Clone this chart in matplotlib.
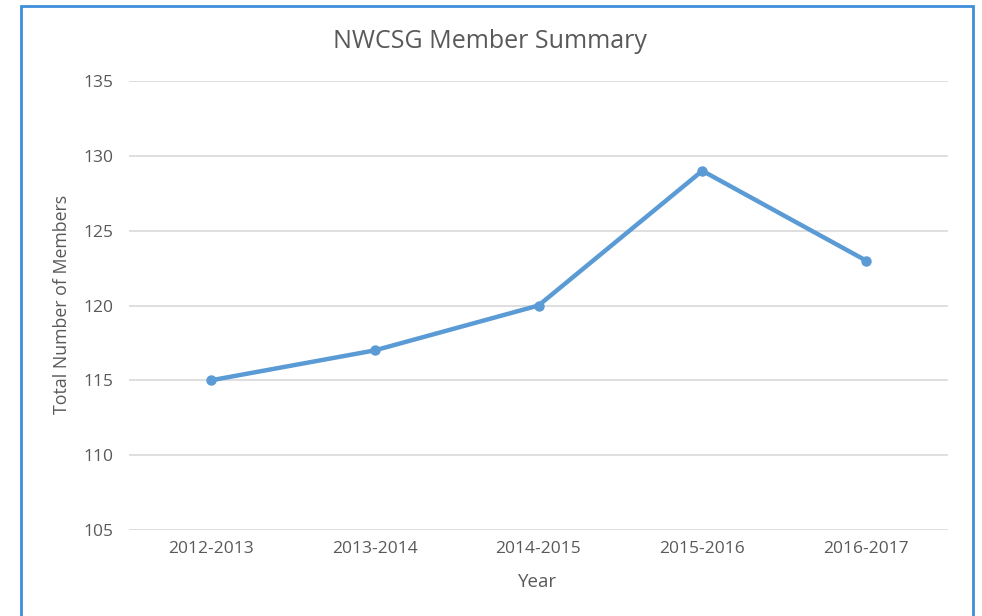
import matplotlib.pyplot as plt
from matplotlib.patches import Rectangle

years = ['2012-2013', '2013-2014', '2014-2015', '2015-2016', '2016-2017']
members = [115, 117, 120, 129, 123]
yticks = [105, 110, 115, 120, 125, 130, 135]

plt.rcParams['font.family'] = ['Open Sans', 'DejaVu Sans']
grey = '#595959'

W, H = 982, 616
fig = plt.figure(figsize=(W / 100, H / 100), dpi=100)
ax = fig.add_axes([129 / W, 1 - 530 / H, (948 - 129) / W, (530 - 81) / H])

x = range(len(years))
ax.plot(x, members, color='#5B9BD5', linewidth=3.2, marker='o', markersize=6.5,
        solid_capstyle='round', zorder=3)

ax.set_xlim(-0.5, len(years) - 0.5)
ax.set_ylim(105, 135)
ax.set_yticks(yticks)
ax.set_xticks(list(x))
ax.set_xticklabels(years)
ax.grid(axis='y', color='#d9d9d9', linewidth=1.2)
ax.set_axisbelow(True)
for s in ax.spines.values():
    s.set_visible(False)
ax.tick_params(length=0, labelsize=12.5, colors=grey, pad=11)
ax.tick_params(axis='x', pad=8)

fig.text(490 / W, 1 - 41 / H, 'NWCSG Member Summary', ha='center', va='center',
         fontsize=18, color=grey)
fig.text(62 / W, 1 - 304 / H, 'Total Number of Members', ha='center', va='center',
         rotation=90, fontsize=12.8, color=grey)
fig.text(538 / W, 1 - 582 / H, 'Year', ha='center', va='center',
         fontsize=13.5, color=grey)

# frame around the chart (bottom edge falls outside the picture)
fig.patches.append(Rectangle((21 / W, -0.05), (973 - 21) / W, 1.05 - 6 / H,
                             transform=fig.transFigure, fill=False,
                             edgecolor='#3d8fdc', linewidth=2))

fig.savefig('out.png', dpi=100)
